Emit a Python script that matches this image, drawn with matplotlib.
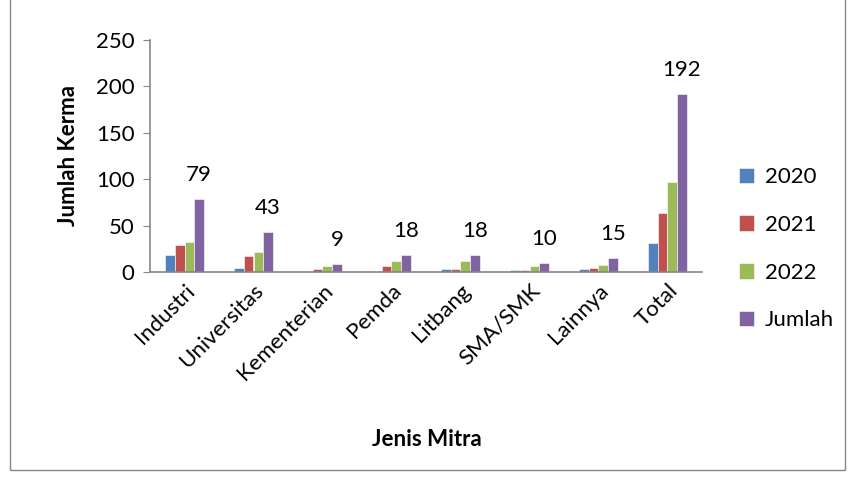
import matplotlib
matplotlib.use("Agg")
import matplotlib.pyplot as plt
import numpy as np
from matplotlib.patches import Rectangle

# data
mitra = ['Industri', 'Universitas', 'Kementerian', 'Pemda', 'Litbang',
         'SMA/SMK', 'Lainnya', 'Total']
th2020 = [18, 4, 0, 0, 3, 2, 3, 31]
th2021 = [29, 17, 3, 6, 3, 2, 4, 64]
th2022 = [32, 22, 6, 12, 12, 6, 8, 97]
jumlah = [79, 43, 9, 18, 18, 10, 15, 192]

series = [('2020', th2020, '#4f81bd'),
          ('2021', th2021, '#c0504d'),
          ('2022', th2022, '#9bbb59'),
          ('Jumlah', jumlah, '#8064a2')]

plt.rcParams['font.family'] = ['Lato', 'DejaVu Sans']
fs = 16

fig = plt.figure(figsize=(8.48, 4.79), dpi=100)
ax = fig.add_axes([150/848, 1 - 272/479, 552/848, 232/479])

x = np.arange(len(mitra))
w = 0.14
for i, (name, vals, col) in enumerate(series):
    ax.bar(x + (i - 1.5) * w, vals, w, color=col, label=name,
           edgecolor='white', linewidth=0.4)

for xi, v in zip(x, jumlah):
    ax.annotate(str(v), (xi + 1.5 * w, v), xytext=(0, 10),
                textcoords='offset points', ha='center', va='bottom',
                fontsize=fs)

ax.set_xlim(-0.5, len(mitra) - 0.5)
ax.set_ylim(0, 250)
ax.set_yticks([0, 50, 100, 150, 200, 250])
ax.set_xticks(x)
ax.set_xticklabels(mitra, rotation=45, ha='right', rotation_mode='anchor',
                   fontsize=fs)
ax.tick_params(axis='y', labelsize=fs, color='#868686', length=5, pad=6)
ax.tick_params(axis='x', length=0, pad=6)
for s in ['top', 'right']:
    ax.spines[s].set_visible(False)
for s in ['left', 'bottom']:
    ax.spines[s].set_color('#868686')
    ax.spines[s].set_linewidth(1.2)

ax.set_ylabel('Jumlah Kerma', fontsize=fs, fontweight='bold', labelpad=12)
fig.text(427/848, 1 - 440/479, 'Jenis Mitra', fontsize=fs,
         fontweight='bold', ha='center', va='center')

ax.legend(loc='center left', bbox_to_anchor=(1.03, 0.1), frameon=False,
          fontsize=fs, handlelength=0.7, handleheight=0.7,
          labelspacing=1.25, handletextpad=0.5)

fig.patches.append(Rectangle((10/848, 9/479), 835/848, 480/479,
                             transform=fig.transFigure, fill=False,
                             edgecolor='#868686', linewidth=1))

fig.savefig('out.png', dpi=100)
